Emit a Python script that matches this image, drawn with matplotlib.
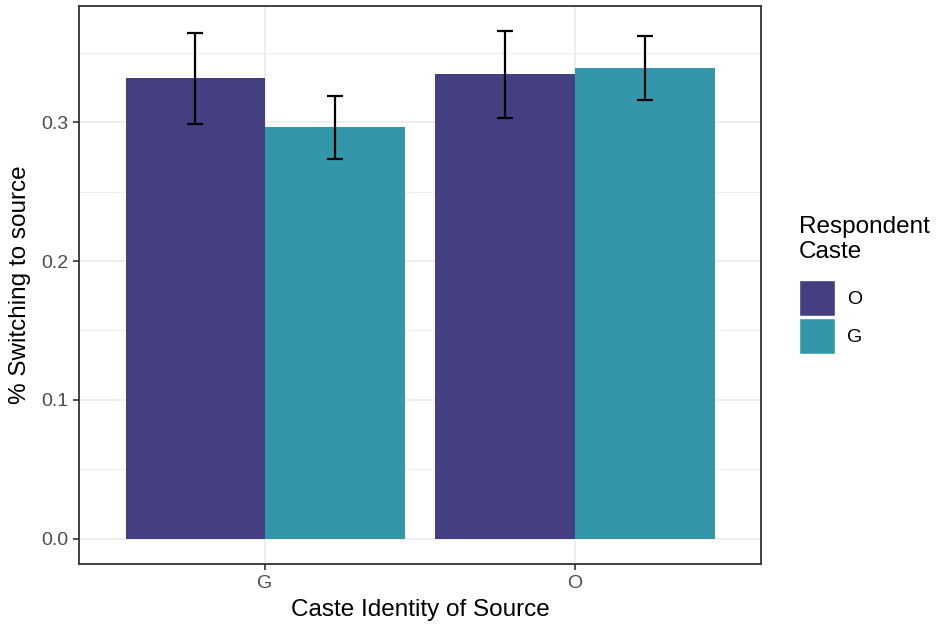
import numpy as np
import matplotlib.pyplot as plt
from matplotlib.patches import Patch

plt.rcParams['font.family'] = ['Liberation Sans', 'DejaVu Sans']

source_caste = ['G', 'O']
respondent_caste = ['O', 'G']
colors = ['#433F80', '#3497A9']

# mean share switching, rows = respondent caste (O, G), cols = source caste (G, O)
share = np.array([[0.332, 0.3345],
                  [0.2965, 0.339]])
ci_low = np.array([[0.2985, 0.303],
                   [0.2733, 0.3158]])
ci_high = np.array([[0.3645, 0.3655],
                    [0.3187, 0.362]])

fig = plt.figure(figsize=(9.36, 6.3), dpi=100)
ax = fig.add_axes([79 / 936, 1 - 564 / 630, 682 / 936, 558 / 630])

x = np.arange(1, len(source_caste) + 1)
bw = 0.45
for i, (resp, col) in enumerate(zip(respondent_caste, colors)):
    xs = x + (i - 0.5) * bw
    ax.bar(xs, share[i], width=bw, color=col, zorder=2)
    ax.errorbar(xs, share[i],
                yerr=[share[i] - ci_low[i], ci_high[i] - share[i]],
                fmt='none', ecolor='black', elinewidth=1.6, capsize=5.8,
                capthick=1.6, zorder=3)

ymax = ci_high.max()
pad = ymax * 0.05
ax.set_ylim(-pad, ymax + pad)
ax.set_xlim(0.4, 2.6)

ax.set_yticks([0.0, 0.1, 0.2, 0.3])
ax.set_yticks([0.05, 0.15, 0.25, 0.35], minor=True)
ax.set_xticks(x)
ax.set_xticklabels(source_caste)
ax.grid(which='major', color='#EBEBEB', linewidth=1.2, zorder=0)
ax.grid(which='minor', axis='y', color='#EBEBEB', linewidth=0.6, zorder=0)
ax.set_axisbelow(True)

for s in ax.spines.values():
    s.set_color('#333333')
    s.set_linewidth(1.3)
ax.tick_params(which='major', length=4, width=1.2, color='#333333',
               labelsize=14, labelcolor='#4D4D4D', pad=4)
ax.tick_params(which='minor', length=0)

ax.set_xlabel('Caste Identity of Source', fontsize=17.5, labelpad=5)
ax.set_ylabel('% Switching to source', fontsize=17.5, labelpad=7)

handles = [Patch(facecolor=c, edgecolor='white', linewidth=1.0) for c in colors]
leg = fig.legend(handles, respondent_caste, title='Respondent\nCaste',
                 loc='upper left', bbox_to_anchor=(799 / 936, 1 - 216 / 630),
                 frameon=False, fontsize=14, title_fontsize=17.5,
                 handlelength=1.85, handleheight=2.47, handletextpad=0.6,
                 labelspacing=0.1, borderaxespad=0, borderpad=0)
leg._legend_box.align = 'left'
leg._legend_box.sep = 12

fig.savefig('out.png', dpi=100, facecolor='white')
